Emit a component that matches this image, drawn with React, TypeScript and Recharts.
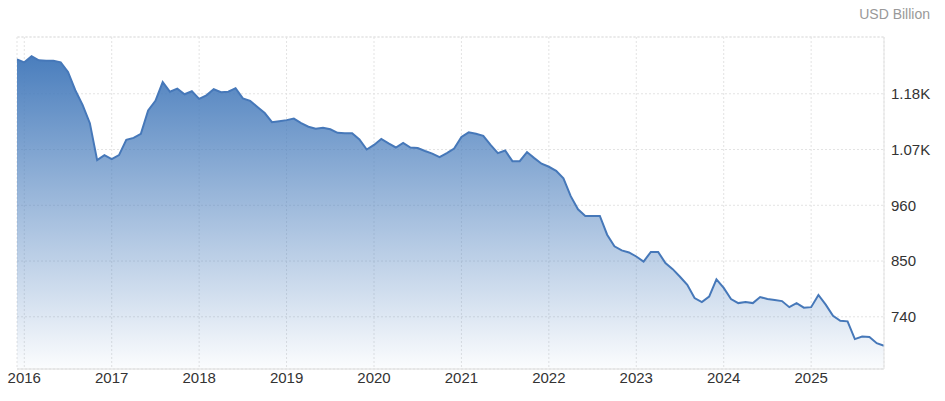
import { AreaChart, Area, XAxis, YAxis, CartesianGrid, ReferenceLine } from 'recharts';

document.body.style.margin = '0';

// Monthly values, starting Dec 2015
const firstYear = 2015;
const firstMonth = 12;
const holdings = [
  1248, 1242, 1254, 1246, 1245, 1245, 1242, 1223, 1187, 1158, 1122, 1049,
  1059, 1051, 1059, 1089, 1093, 1101, 1147, 1166, 1203, 1184, 1190, 1179,
  1185, 1170, 1177, 1189, 1183, 1184, 1191, 1171, 1166, 1154, 1142, 1124,
  1126, 1128, 1131, 1122, 1115, 1111, 1113, 1110, 1103, 1102, 1102, 1090,
  1070, 1079, 1091, 1082, 1074, 1083, 1074, 1073, 1067, 1062, 1055, 1063,
  1072, 1095, 1104, 1101, 1097, 1079, 1063, 1068, 1047, 1047, 1065, 1053,
  1042, 1036, 1028, 1013, 978, 952, 939, 939, 939, 902, 879, 871,
  867, 859, 849, 868, 868, 846, 834, 819, 803, 777, 769, 780,
  814, 797, 775, 767, 769, 767, 779, 775, 773, 771, 759, 767,
  758, 759, 783, 764, 742, 732, 731, 696, 701, 700, 688, 683,
];

const yearLabels = ['2016', '2017', '2018', '2019', '2020', '2021', '2022', '2023', '2024', '2025'];
const valueTicks = [740, 850, 960, 1070, 1180];
const valueDomain = [637, 1292];

const data = holdings.map((v, i) => ({ t: i, value: v }));

// index of January of each labelled year
const yearTicks = yearLabels.map(
  (y) => (Number(y) - firstYear) * 12 + 1 - firstMonth
);

const fmtValue = (v: number) => (v >= 1000 ? (v / 1000).toFixed(2) + 'K' : String(v));
const fmtYear = (t: number) => yearLabels[yearTicks.indexOf(t)] ?? '';

export default function App() {
  return (
    <div style={{ position: 'relative', width: 945, height: 401, background: '#fff', fontFamily: '"Liberation Sans", Arial, sans-serif' }}>
      <div style={{ position: 'absolute', right: 15, top: 6, fontSize: 14, color: '#999' }}>
        USD Billion
      </div>
      <AreaChart width={945} height={401} data={data} margin={{ top: 37, right: 0, bottom: 0, left: 17 }}>
        <defs>
          <linearGradient id="fillBlue" x1="0" y1="0" x2="0" y2="1">
            <stop offset="0%" stopColor="#4a7ebd" stopOpacity={1} />
            <stop offset="100%" stopColor="#4a7ebd" stopOpacity={0.02} />
          </linearGradient>
        </defs>
        <CartesianGrid stroke="#e3e3e3" strokeDasharray="2 2" />
        <ReferenceLine y={valueDomain[1]} stroke="#e3e3e3" strokeDasharray="2 2" />
        <XAxis
          dataKey="t"
          type="number"
          domain={[0, holdings.length - 1]}
          ticks={yearTicks}
          tickFormatter={fmtYear}
          height={32}
          tickLine={false}
          tickSize={0}
          tickMargin={3}
          axisLine={{ stroke: '#dcdcdc' }}
          tick={{ fill: '#333', fontSize: 15 }}
        />
        <YAxis
          orientation="right"
          type="number"
          domain={valueDomain}
          ticks={valueTicks}
          tickFormatter={fmtValue}
          width={61}
          tickLine={false}
          tickSize={0}
          tickMargin={7}
          axisLine={{ stroke: '#e3e3e3' }}
          tick={{ fill: '#333', fontSize: 15, textAnchor: 'start' }}
          allowDataOverflow
        />
        <Area
          type="linear"
          dataKey="value"
          stroke="#4678b9"
          strokeWidth={2}
          fill="url(#fillBlue)"
          fillOpacity={1}
          baseValue={valueDomain[0]}
          isAnimationActive={false}
          dot={false}
          activeDot={false}
        />
      </AreaChart>
    </div>
  );
}
